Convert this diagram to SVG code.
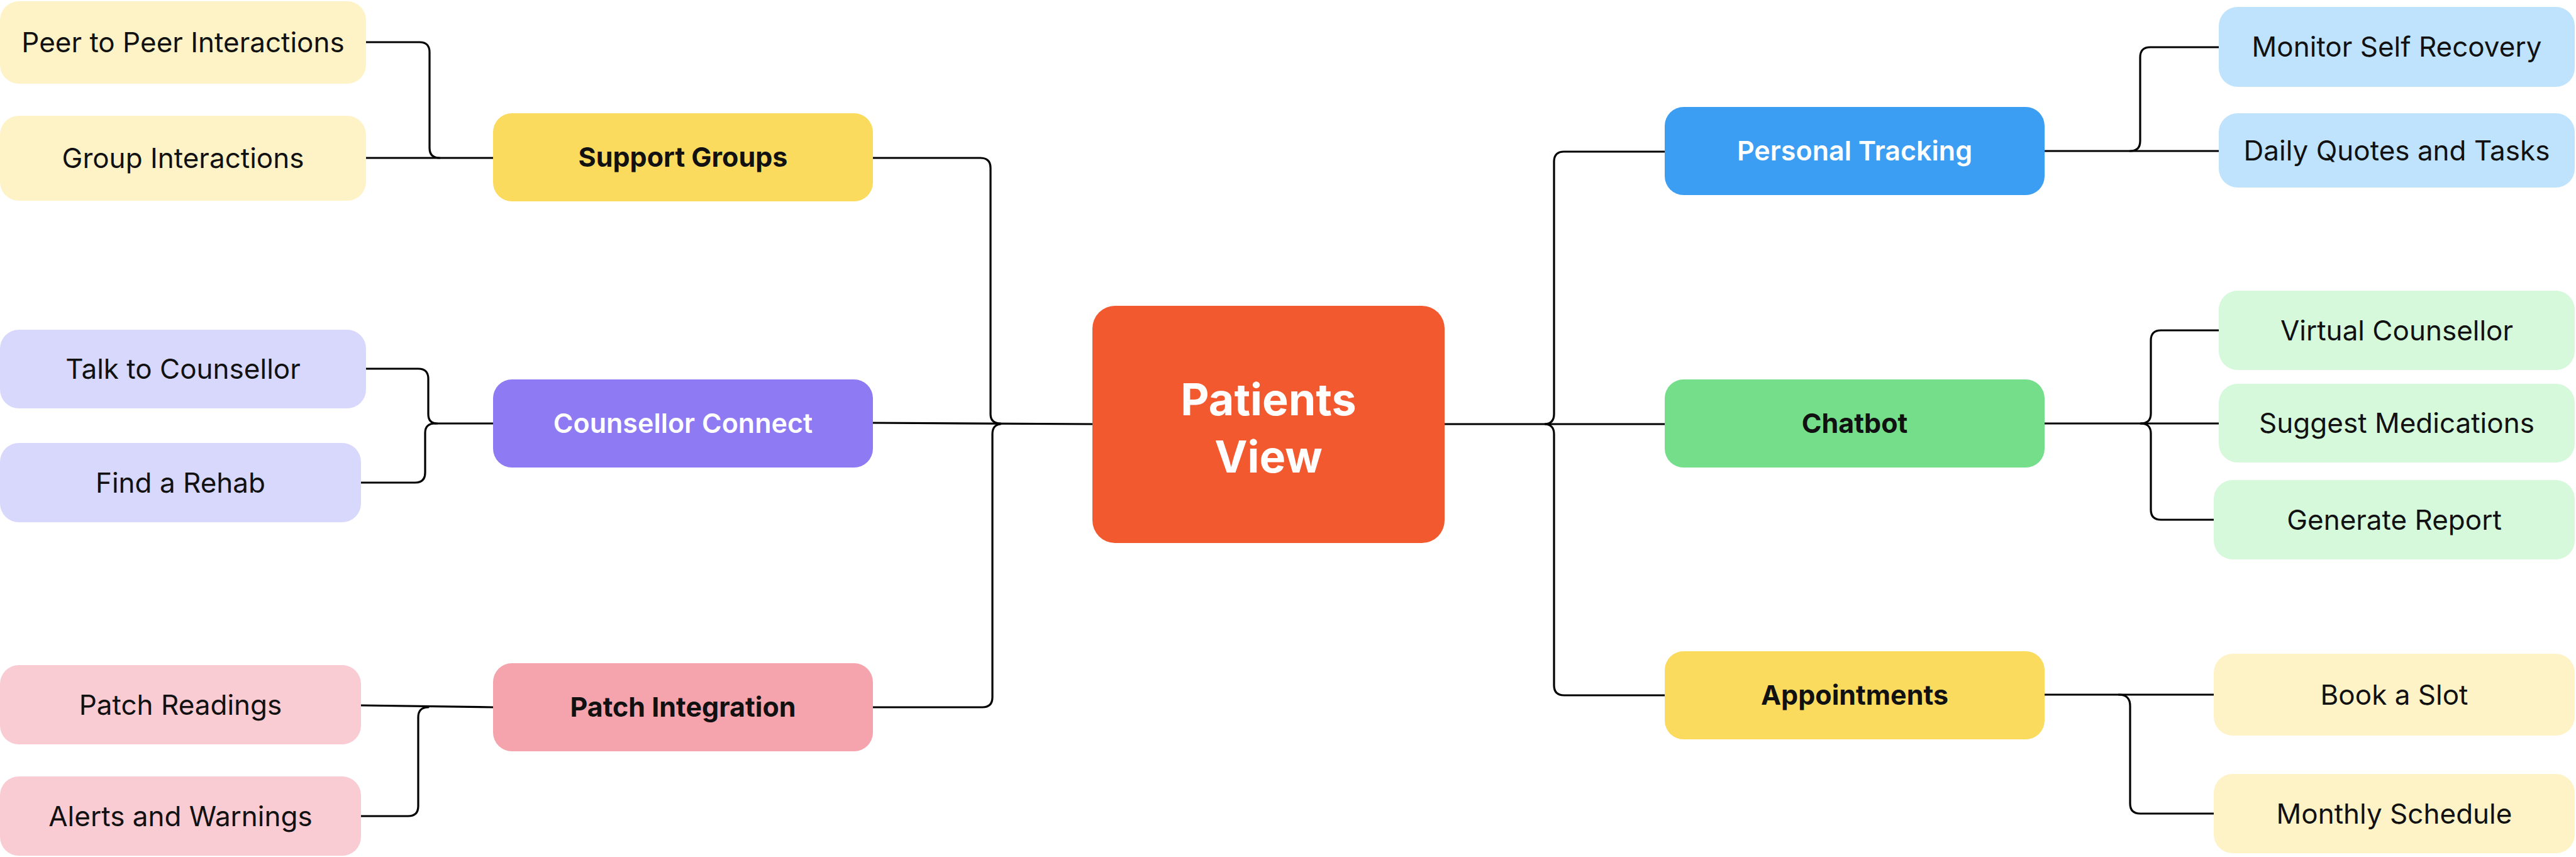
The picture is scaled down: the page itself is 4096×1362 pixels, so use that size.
<svg xmlns="http://www.w3.org/2000/svg" width="4096" height="1362" viewBox="0 0 4096 1362">
<style>
  .leaf { font-family: Inter, "Liberation Sans", sans-serif; font-size: 44px; fill: #111111; text-anchor: middle; }
  .l1 { font-family: Inter, "Liberation Sans", sans-serif; font-size: 43px; font-weight: 700; fill: #111111; text-anchor: middle; }
  .l1w { font-family: Inter, "Liberation Sans", sans-serif; font-size: 43px; font-weight: 600; fill: #ffffff; text-anchor: middle; }
  .root { font-family: Inter, "Liberation Sans", sans-serif; font-size: 70px; font-weight: 700; fill: #ffffff; text-anchor: middle; }
  .conn path { fill: none; stroke: #000000; stroke-width: 3.2; stroke-linecap: round; stroke-linejoin: round; }
  .ly { fill: #FEF3C6; } .lp { fill: #D8D8FD; } .lk { fill: #F9CBD2; } .lb { fill: #BFE3FD; } .lg { fill: #D6F8DB; }
</style>
<rect x="0" y="0" width="4096" height="1362" fill="#ffffff"/>

<g class="conn" id="connectors">
  <!-- left: support groups -->
  <path d="M582 67 H667 Q683 67 683 83 V235 Q683 251 699 251"/>
  <path d="M582 251 H784"/>
  <!-- left: counsellor connect -->
  <path d="M582 586 H665 Q681 586 681 602 V658 Q681 673 695 673"/>
  <path d="M574 767 H660 Q676 767 676 751 V688 Q676 673 692 673"/>
  <path d="M692 673 H784"/>
  <!-- left: patch integration -->
  <path d="M574 1121 L784 1124"/>
  <path d="M574 1297 H649 Q665 1297 665 1281 V1140 Q665 1124 681 1124"/>
  <!-- left trunk -->
  <path d="M1388 251 H1559 Q1575 251 1575 267 V658 Q1575 673 1591 673"/>
  <path d="M1388 1124 H1562 Q1578 1124 1578 1108 V690 Q1578 675 1591 674"/>
  <path d="M1388 672 L1737 674"/>
  <!-- right trunk -->
  <path d="M2297 674 H2647"/>
  <path d="M2457 674 Q2471 673 2471 658 V257 Q2471 241 2487 241 H2647"/>
  <path d="M2457 674 Q2471 675 2471 690 V1089 Q2471 1105 2487 1105 H2647"/>
  <!-- right: personal tracking -->
  <path d="M3251 240 H3528"/>
  <path d="M3387 240 Q3403 240 3403 224 V91 Q3403 75 3419 75 H3528"/>
  <!-- right: chatbot -->
  <path d="M3251 673 H3528"/>
  <path d="M3404 673 Q3420 673 3420 657 V541 Q3420 525 3436 525 H3528"/>
  <path d="M3404 673 Q3420 673 3420 689 V810 Q3420 826 3436 826 H3520"/>
  <!-- right: appointments -->
  <path d="M3251 1104 H3520"/>
  <path d="M3369 1104 Q3387 1104 3387 1122 V1277 Q3387 1293 3403 1293 H3520"/>
</g>

<g id="patients-view">
  <rect x="1737" y="486" width="560" height="377" rx="36" fill="#F2592F"/>
  <text class="root" x="2017" y="660">Patients</text>
  <text class="root" x="2017" y="751">View</text>
</g>

<g id="support-groups">
  <rect x="784" y="180" width="604" height="140" rx="30" fill="#FADB5E"/>
  <text class="l1" x="1086" y="265">Support Groups</text>
</g>
<g id="counsellor-connect">
  <rect x="784" y="603" width="604" height="140" rx="30" fill="#8E7AF3"/>
  <text class="l1w" x="1086" y="688">Counsellor Connect</text>
</g>
<g id="patch-integration">
  <rect x="784" y="1054" width="604" height="140" rx="30" fill="#F5A3AC"/>
  <text class="l1" x="1086" y="1139">Patch Integration</text>
</g>

<g id="personal-tracking">
  <rect x="2647" y="170" width="604" height="140" rx="30" fill="#3B9EF3"/>
  <text class="l1w" x="2949" y="255">Personal Tracking</text>
</g>
<g id="chatbot">
  <rect x="2647" y="603" width="604" height="140" rx="30" fill="#74DE8B"/>
  <text class="l1" x="2949" y="688">Chatbot</text>
</g>
<g id="appointments">
  <rect x="2647" y="1035" width="604" height="140" rx="30" fill="#FADB5E"/>
  <text class="l1" x="2949" y="1120">Appointments</text>
</g>

<g id="peer-to-peer">
  <rect class="ly" x="0" y="2" width="582" height="131" rx="30"/>
  <text class="leaf" x="291" y="83">Peer to Peer Interactions</text>
</g>
<g id="group-interactions">
  <rect class="ly" x="0" y="184" width="582" height="135" rx="30"/>
  <text class="leaf" x="291" y="267">Group Interactions</text>
</g>
<g id="talk-to-counsellor">
  <rect class="lp" x="0" y="524" width="582" height="125" rx="30"/>
  <text class="leaf" x="291" y="602">Talk to Counsellor</text>
</g>
<g id="find-a-rehab">
  <rect class="lp" x="0" y="704" width="574" height="126" rx="30"/>
  <text class="leaf" x="287" y="783">Find a Rehab</text>
</g>
<g id="patch-readings">
  <rect class="lk" x="0" y="1057" width="574" height="126" rx="30"/>
  <text class="leaf" x="287" y="1136">Patch Readings</text>
</g>
<g id="alerts-and-warnings">
  <rect class="lk" x="0" y="1234" width="574" height="126" rx="30"/>
  <text class="leaf" x="287" y="1313">Alerts and Warnings</text>
</g>

<g id="monitor-self-recovery">
  <rect class="lb" x="3528" y="11" width="566" height="127" rx="30"/>
  <text class="leaf" x="3811" y="90">Monitor Self Recovery</text>
</g>
<g id="daily-quotes">
  <rect class="lb" x="3528" y="180" width="566" height="118" rx="30"/>
  <text class="leaf" x="3811" y="255">Daily Quotes and Tasks</text>
</g>
<g id="virtual-counsellor">
  <rect class="lg" x="3528" y="462" width="566" height="126" rx="30"/>
  <text class="leaf" x="3811" y="541">Virtual Counsellor</text>
</g>
<g id="suggest-medications">
  <rect class="lg" x="3528" y="610" width="566" height="125" rx="30"/>
  <text class="leaf" x="3811" y="688">Suggest Medications</text>
</g>
<g id="generate-report">
  <rect class="lg" x="3520" y="763" width="574" height="126" rx="30"/>
  <text class="leaf" x="3807" y="842">Generate Report</text>
</g>
<g id="book-a-slot">
  <rect class="ly" x="3520" y="1039" width="574" height="130" rx="30"/>
  <text class="leaf" x="3807" y="1120">Book a Slot</text>
</g>
<g id="monthly-schedule">
  <rect class="ly" x="3520" y="1230" width="574" height="126" rx="30"/>
  <text class="leaf" x="3807" y="1309">Monthly Schedule</text>
</g>
</svg>
